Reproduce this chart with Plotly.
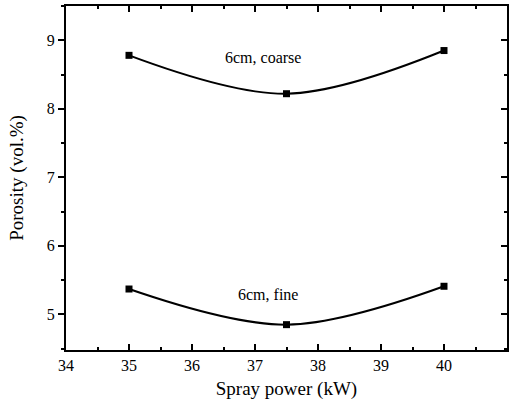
import plotly.graph_objects as go

power = [35, 37.5, 40]
coarse = [8.78, 8.22, 8.85]
fine = [5.37, 4.85, 5.41]
x_ticks = [34, 35, 36, 37, 38, 39, 40, 41]
y_ticks = [5, 6, 7, 8, 9]

font = "Liberation Serif"
fig = go.Figure()
for ys in (coarse, fine):
    fig.add_trace(go.Scatter(x=power, y=ys, mode="lines+markers",
                             line=dict(color="black", width=2, shape="spline", smoothing=1),
                             marker=dict(symbol="square", size=7, color="black"),
                             showlegend=False, yaxis="y"))
fig.add_trace(go.Scatter(x=power, y=coarse, mode="markers", opacity=0,
                         showlegend=False, yaxis="y2", hoverinfo="skip"))

fig.add_annotation(x=37.12, y=8.75, text="6cm, coarse", showarrow=False,
                   font=dict(family=font, size=16, color="black"))
fig.add_annotation(x=37.2, y=5.29, text="6cm, fine", showarrow=False,
                   font=dict(family=font, size=16, color="black"))

yr = [4.48, 9.5]
fig.update_layout(
    width=511, height=405,
    margin=dict(l=66, r=4, t=6, b=55, autoexpand=False),
    plot_bgcolor="white", paper_bgcolor="white",
    font=dict(family=font, size=16, color="black"),
    xaxis=dict(range=[34, 41], tickvals=x_ticks, ticks="inside", ticklen=6,
               tickwidth=1.5, tickcolor="black", showline=True,
               linecolor="black", linewidth=2, mirror="ticks",
               showgrid=False, zeroline=False, automargin=False,
               minor=dict(dtick=0.5, ticks="inside", ticklen=3, tickcolor="black"),
               title=dict(text="Spray power (kW)", standoff=8)),
    yaxis=dict(range=yr, tickvals=y_ticks, ticks="outside", ticklen=6,
               tickwidth=1.5, tickcolor="black", linecolor="black", linewidth=2,
               showline=True, showgrid=False, zeroline=False, automargin=False,
               minor=dict(dtick=0.5, tick0=0, ticks="outside", ticklen=3, tickcolor="black"),
               title=dict(text="Porosity (vol.%)", standoff=18)),
    yaxis2=dict(range=yr, tickvals=y_ticks, ticks="inside", ticklen=6, tickwidth=1.5,
                tickcolor="black", overlaying="y", side="right", showticklabels=False,
                linecolor="black", linewidth=2, showline=True, showgrid=False,
                zeroline=False, automargin=False,
                minor=dict(dtick=0.5, tick0=0, ticks="inside", ticklen=3, tickcolor="black")),
)
fig.write_html("out.html", config={"displayModeBar": False},
               post_script="document.body.style.margin='0';")
